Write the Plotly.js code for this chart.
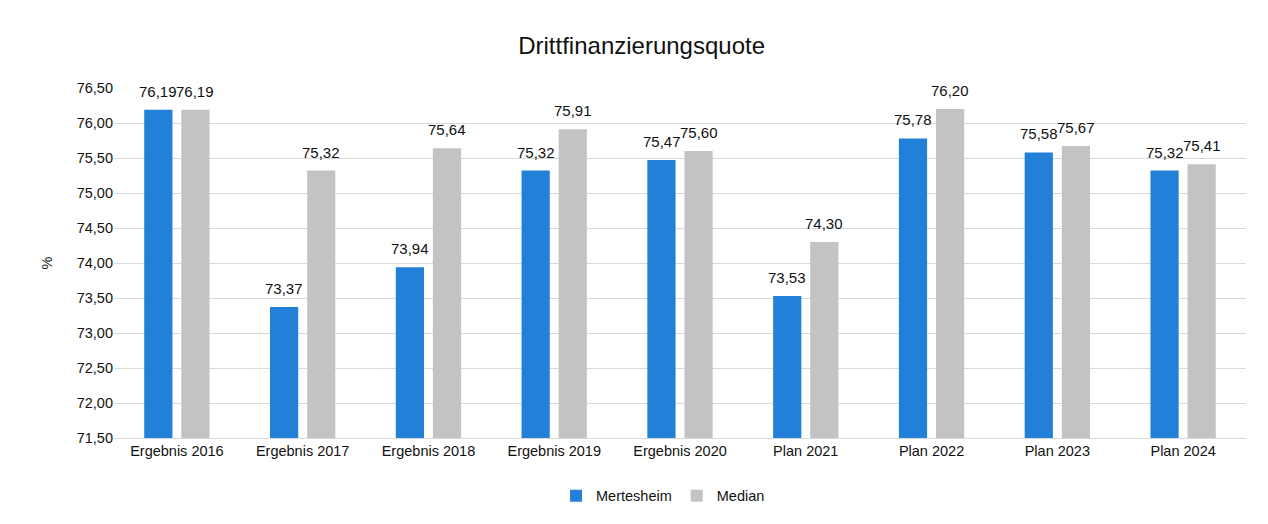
<!DOCTYPE html>
<html><head><meta charset="utf-8">
<script src="https://cdn.plot.ly/plotly-3.0.1.min.js"></script>
<style>html,body{margin:0;padding:0;background:#fff}#c{width:1268px;height:524px}</style>
</head><body><div id="c"></div>
<script>
const categories = ["Ergebnis 2016","Ergebnis 2017","Ergebnis 2018","Ergebnis 2019","Ergebnis 2020","Plan 2021","Plan 2022","Plan 2023","Plan 2024"];
const mertesheim = [76.19,73.37,73.94,75.32,75.47,73.53,75.78,75.58,75.32];
const median = [76.19,75.32,75.64,75.91,75.60,74.30,76.20,75.67,75.41];
const yTicks = [71.5,72,72.5,73,73.5,74,74.5,75,75.5,76,76.5];

const FAM = "Liberation Sans, Arial, sans-serif";
const fmt = v => v.toFixed(2).replace(".", ",");
const traces = [
  {type:"bar", name:"Mertesheim", x:categories, y:mertesheim, marker:{color:"#2280d8"}},
  {type:"bar", name:"Median", x:categories, y:median, marker:{color:"#c3c3c3"}}
];
const annotations = [];
categories.forEach((c,i)=>{
  annotations.push({x:c, y:mertesheim[i], xref:"x", yref:"y", text:fmt(mertesheim[i]), showarrow:false,
    xshift:-18.5, yshift:8, yanchor:"bottom", font:{size:15,color:"#111",family:FAM}});
  annotations.push({x:c, y:median[i], xref:"x", yref:"y", text:fmt(median[i]), showarrow:false,
    xshift:18.5, yshift:8, yanchor:"bottom", font:{size:15,color:"#111",family:FAM}});
});
const layout = {
  width:1268, height:524, separators:",.",
  font:{family:FAM, size:14.5, color:"#111"}, paper_bgcolor:"#fff", plot_bgcolor:"#fff",
  margin:{l:114,r:22,t:88,b:83},
  title:{text:"Drittfinanzierungsquote", font:{size:24,color:"#111",family:FAM}, x:0.506, xanchor:"center", y:0.913, yanchor:"middle"},
  barmode:"group", bargap:0.41, bargroupgap:0.24,
  xaxis:{tickfont:{size:14.5}, showline:true, linecolor:"#d9d9d9", ticks:"", showgrid:false},
  yaxis:{range:[71.5,76.5], tickvals:yTicks, tickformat:".2f", gridcolor:"#d9d9d9", zeroline:false,
         tickfont:{size:14.5}, ticks:"", title:{text:"%", font:{size:14.5}, standoff:20}},
  showlegend:true,
  legend:{orientation:"h", x:0.485, xanchor:"center", y:-0.165, yanchor:"middle", font:{size:14.5}, itemwidth:30, traceorder:"normal"},
  annotations:annotations
};
Plotly.newPlot("c", traces, layout, {displayModeBar:false, staticPlot:true});
</script></body></html>
